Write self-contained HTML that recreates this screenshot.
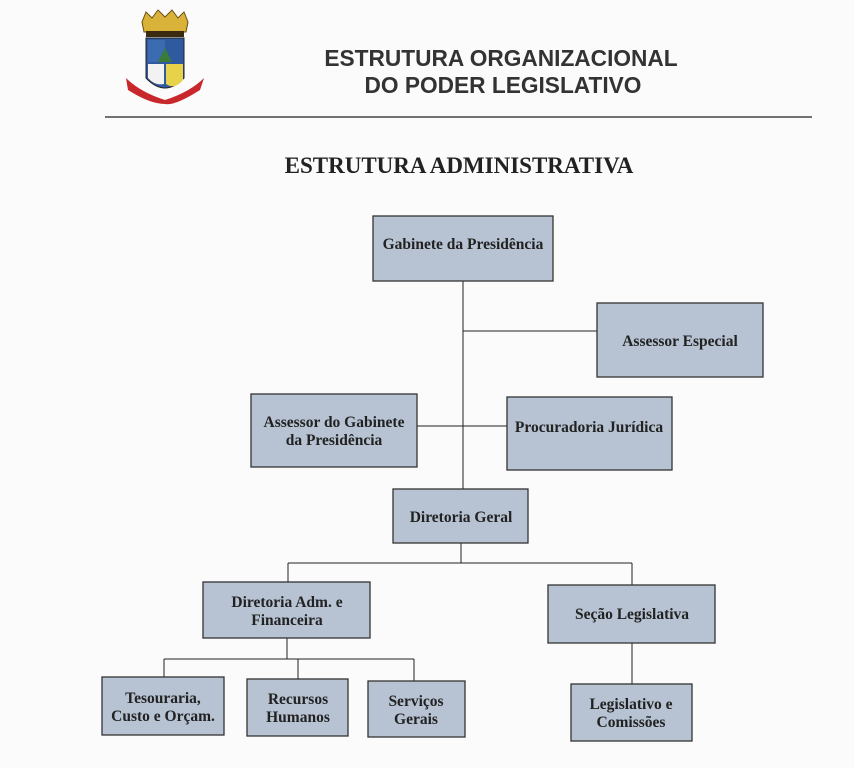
<!DOCTYPE html>
<html><head><meta charset="utf-8"><style>
html,body{margin:0;padding:0;background:#fbfbfb;}
svg{display:block;}
.b{fill:#b7c3d3;stroke:#333;stroke-width:1.3;}
.t{font-family:"Liberation Serif",serif;font-weight:bold;font-size:15.5px;fill:#222;text-anchor:middle;}
.l{stroke:#222;stroke-width:1;fill:none;}
</style></head><body>
<svg width="854" height="768" viewBox="0 0 854 768">
<g>
<path d="M142 22 L146 12 L152 18 L158 10 L165 17 L172 10 L178 18 L184 12 L188 22 L186 32 L144 32Z" fill="#d9b23a" stroke="#6b4e10" stroke-width="1"/>
<rect x="146" y="31" width="38" height="6" fill="#3a2a10"/>
<path d="M146 38 L184 38 L184 78 Q165 98 146 78Z" fill="#2f5aa0" stroke="#222" stroke-width="1"/>
<path d="M148 40 L165 40 L165 62 L148 62Z" fill="#3b6bb0"/>
<path d="M158 62 L165 48 L172 62Z" fill="#3a7a3a"/>
<path d="M166 64 L183 64 L183 80 Q175 90 166 84Z" fill="#e8d24a"/>
<path d="M148 64 L164 64 L164 84 Q155 86 148 78Z" fill="#f2f2f2"/>
<path d="M126 78 Q140 92 165 100 Q190 92 204 78 L200 90 Q175 106 165 104 Q150 104 128 90Z" fill="#c8282c"/>
</g>
<text x="501" y="66" font-family="'Liberation Sans',sans-serif" font-weight="bold" font-size="22.7" fill="#333" text-anchor="middle">ESTRUTURA ORGANIZACIONAL</text>
<text x="503" y="93" font-family="'Liberation Sans',sans-serif" font-weight="bold" font-size="22.7" fill="#333" text-anchor="middle">DO PODER LEGISLATIVO</text>
<line x1="105" y1="117" x2="812" y2="117" stroke="#444" stroke-width="1.5"/>
<text x="459" y="173" font-family="'Liberation Serif',serif" font-weight="bold" font-size="23" fill="#222" text-anchor="middle">ESTRUTURA ADMINISTRATIVA</text>

<path class="l" d="M463 281 V489 M463 331 H597 M417 426 H507 M461 543 V563 M288 563 H632 M288 563 V582 M632 563 V585 M287 638 V659 M164 659 H414 M164 659 V677 M298 659 V679 M414 659 V681 M632 643 V684"/>

<rect class="b" x="373" y="216" width="180" height="65"/>
<text class="t" x="463" y="249">Gabinete da Presidência</text>
<rect class="b" x="597" y="303" width="166" height="74"/>
<text class="t" x="680" y="346">Assessor Especial</text>
<rect class="b" x="251" y="394" width="166" height="73"/>
<text class="t" x="334" y="427">Assessor do Gabinete</text>
<text class="t" x="334" y="445">da Presidência</text>
<rect class="b" x="507" y="397" width="165" height="73"/>
<text class="t" x="589" y="432">Procuradoria Jurídica</text>
<rect class="b" x="393" y="489" width="135" height="54"/>
<text class="t" x="461" y="522">Diretoria Geral</text>
<rect class="b" x="203" y="582" width="167" height="56"/>
<text class="t" x="287" y="607">Diretoria Adm. e</text>
<text class="t" x="287" y="625">Financeira</text>
<rect class="b" x="548" y="585" width="167" height="58"/>
<text class="t" x="632" y="619">Seção Legislativa</text>
<rect class="b" x="102" y="677" width="122" height="58"/>
<text class="t" x="163" y="703">Tesouraria,</text>
<text class="t" x="163" y="721">Custo e Orçam.</text>
<rect class="b" x="247" y="679" width="101" height="57"/>
<text class="t" x="298" y="704">Recursos</text>
<text class="t" x="298" y="722">Humanos</text>
<rect class="b" x="368" y="681" width="97" height="56"/>
<text class="t" x="416" y="706">Serviços</text>
<text class="t" x="416" y="724">Gerais</text>
<rect class="b" x="571" y="684" width="121" height="57"/>
<text class="t" x="631" y="709">Legislativo e</text>
<text class="t" x="631" y="727">Comissões</text>
</svg>
</body></html>
